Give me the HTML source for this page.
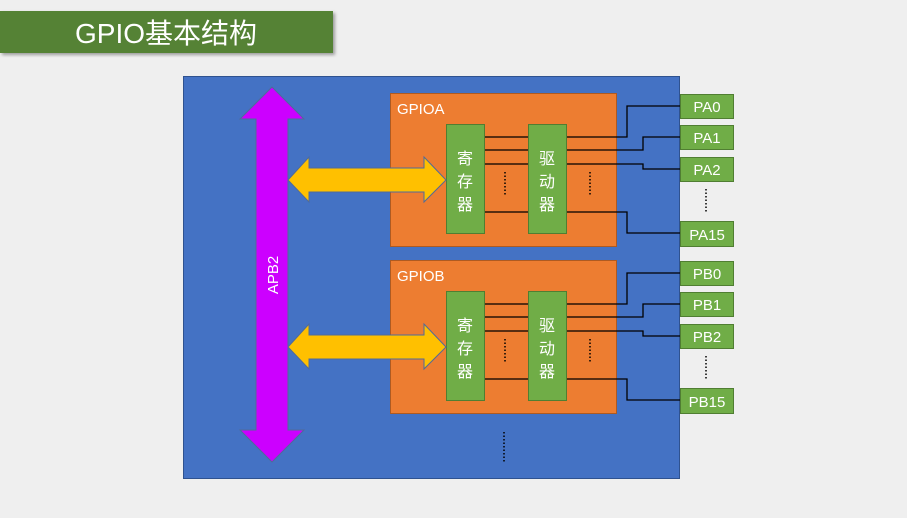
<!DOCTYPE html>
<html><head><meta charset="utf-8"><style>
body{margin:0;width:907px;height:513px;background:#efefef;overflow:hidden;font-family:"Liberation Sans","Noto Sans CJK SC",sans-serif}
</style></head><body>
<svg width="907" height="513" xmlns="http://www.w3.org/2000/svg" font-family="Liberation Sans, Noto Sans CJK SC, sans-serif">
<defs><filter id="sh"><feDropShadow dx="2" dy="2" stdDeviation="1.5" flood-color="#000" flood-opacity="0.35"/></filter></defs>
<rect x="0" y="11" width="333" height="42" fill="#548235" filter="url(#sh)"/>
<text x="166" y="43" font-size="28" fill="#fff" text-anchor="middle">GPIO基本结构</text>
<rect x="183.5" y="76.5" width="496" height="402" fill="#4472c4" stroke="#2f528f"/>
<g id="A">
<rect x="390.5" y="93.5" width="226" height="153" fill="#ed7d31" stroke="#ae5a21"/>
<g stroke="#000" stroke-width="1.3" fill="none">
<path d="M484 137H528M484 150H528M484 164H528M484 212H528"/>
<path d="M566 137H627V106H680M566 150H643V137H680M566 164H643V169H680M566 212H627V233H680"/>
</g>
<rect x="446.5" y="124.5" width="38" height="109" fill="#70ad47" stroke="#507e32"/>
<rect x="528.5" y="124.5" width="38" height="109" fill="#70ad47" stroke="#507e32"/>
<text font-size="16" fill="#fff" text-anchor="middle"><tspan x="465" y="164">寄</tspan><tspan x="465" y="187">存</tspan><tspan x="465" y="210">器</tspan></text>
<text font-size="16" fill="#fff" text-anchor="middle"><tspan x="547" y="164">驱</tspan><tspan x="547" y="187">动</tspan><tspan x="547" y="210">器</tspan></text>
<path d="M505 172V196M590 172V196" stroke="#000" stroke-width="1.5" stroke-dasharray="1.5 2"/>
<path d="M288 180L309 157V168H424V157L446 180L424 202V192H309V202Z" fill="#ffc000" stroke="#4f6b9a"/>
</g>
<use href="#A" transform="translate(0,167)"/>
<text x="397" y="114" font-size="15" fill="#fff">GPIOA</text>
<text x="397" y="281" font-size="15" fill="#fff">GPIOB</text>
<path d="M272 87L304 119H288V430H304L272 462L240 430H256V119H240Z" fill="#cc00ff" stroke="#4f6b9a"/>
<text transform="translate(278,275) rotate(-90)" font-size="15" fill="#fff" text-anchor="middle">APB2</text>
<g font-size="15" fill="#fff" text-anchor="middle">
<rect x="680.5" y="94.5" width="53" height="24" fill="#70ad47" stroke="#507e32"/><text x="707" y="112">PA0</text>
<rect x="680.5" y="125.5" width="53" height="24" fill="#70ad47" stroke="#507e32"/><text x="707" y="143">PA1</text>
<rect x="680.5" y="157.5" width="53" height="24" fill="#70ad47" stroke="#507e32"/><text x="707" y="175">PA2</text>
<rect x="680.5" y="221.5" width="53" height="25" fill="#70ad47" stroke="#507e32"/><text x="707" y="240">PA15</text>
<rect x="680.5" y="261.5" width="53" height="24" fill="#70ad47" stroke="#507e32"/><text x="707" y="279">PB0</text>
<rect x="680.5" y="292.5" width="53" height="24" fill="#70ad47" stroke="#507e32"/><text x="707" y="310">PB1</text>
<rect x="680.5" y="324.5" width="53" height="24" fill="#70ad47" stroke="#507e32"/><text x="707" y="342">PB2</text>
<rect x="680.5" y="388.5" width="53" height="25" fill="#70ad47" stroke="#507e32"/><text x="707" y="407">PB15</text>
</g>
<path d="M706 189V213M706 356V380M504 432V462" stroke="#000" stroke-width="1.5" stroke-dasharray="1.5 2"/>
</svg>
</body></html>
